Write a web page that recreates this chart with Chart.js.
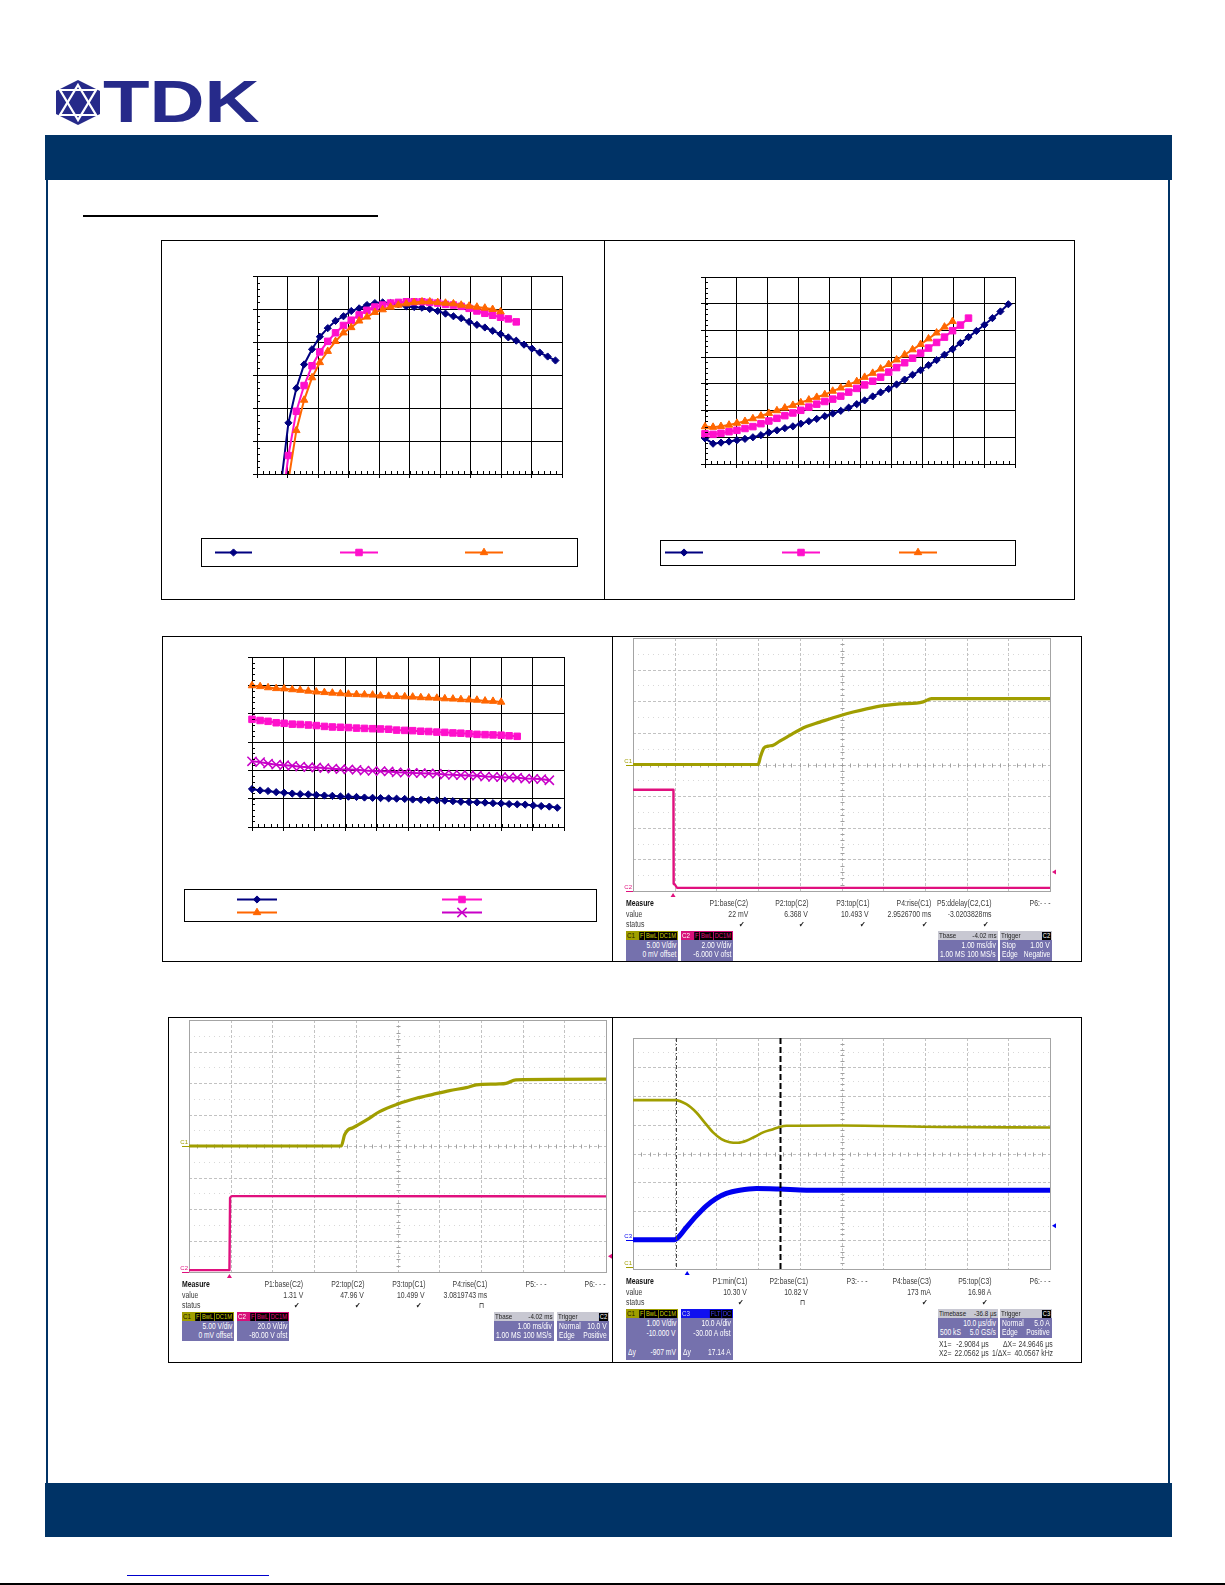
<!DOCTYPE html>
<html>
<head>
<meta charset="utf-8">
<title>TDK</title>
<script src="https://cdn.jsdelivr.net/npm/chart.js@4.4.1/dist/chart.umd.min.js"></script>
<style>
  html, body { margin: 0; padding: 0; background: #fff; }
  #page { position: relative; width: 1225px; height: 1585px; overflow: hidden; background: #fff; }
  .blk { position: absolute; }
  .panel { position: absolute; box-sizing: border-box; border: 1px solid #000; background: #fff; }
  canvas { position: absolute; }
  .t { position: absolute; white-space: nowrap; font-family: "Liberation Sans", Arial, sans-serif;
       font-size: 8.4px; line-height: 10px; height: 10px; color: #3a3a3a; }
  .box { position: absolute; background: #7571ad; overflow: hidden; color: #fff;
         font-family: "Liberation Sans", Arial, sans-serif; font-size: 8.2px; }
  .box span { position: absolute; white-space: nowrap; line-height: 9px; }
  .hdr { position: absolute; left: 0; top: 0; right: 0; height: 9px; font-size: 7.6px; }
  .bd { display: inline-block; background: #000; padding: 0 1px; margin-left: 1px; line-height: 8px; height: 8px;
        font-style: normal; font-size: 7px; margin-top: 0.5px; }
  #logo-text { position: absolute; left: 103px; top: 72px; font: bold 60px "Liberation Sans", Arial, sans-serif;
               line-height: 60px; color: #262a8a; transform: scaleX(1.27); transform-origin: 0 0; }
</style>
</head>
<body>
<div id="page">
  <svg class="blk" style="left:55px;top:80px" width="47" height="46" viewBox="0 0 47 46">
    <polygon points="23,0 45,11 45,34 23,45 1,34 1,11" fill="#262a8a"/>
    <polygon points="23,5 41,35 5,35" fill="none" stroke="#fff" stroke-width="2.2"/>
    <polygon points="23,40 5,10 41,10" fill="none" stroke="#fff" stroke-width="2.2"/>
  </svg>
  <div id="logo-text">TDK</div>
  <div class="blk" style="left:45px;top:135px;width:1127px;height:45px;background:#003366"></div>
  <div class="blk" style="left:46px;top:180px;width:2px;height:1303px;background:#003366"></div>
  <div class="blk" style="left:1168px;top:180px;width:2px;height:1303px;background:#003366"></div>
  <div class="blk" style="left:83px;top:215px;width:295px;height:2px;background:#000"></div>
  <div class="blk" style="left:45px;top:1483px;width:1127px;height:54px;background:#003366"></div>
  <div class="blk" style="left:127px;top:1575px;width:142px;height:1px;background:#0000cc"></div>
  <div class="blk" style="left:0;top:1583px;width:1225px;height:2px;background:#000"></div>
</div>
<script>
// ---------- chart data ----------
// load points shared by the three Excel charts (A)
const loadA = [0.00, 0.52, 1.03, 1.55, 2.06, 2.58, 3.09, 3.61, 4.12, 4.64, 5.15, 5.67, 6.18, 6.70, 7.21, 7.73,
               8.24, 8.76, 9.27, 9.79, 10.30, 10.82, 11.33, 11.85, 12.36, 12.88, 13.39, 13.91, 14.42, 14.94,
               15.45, 15.97, 16.48, 17.00, 17.51, 18.03, 18.54, 19.06, 19.57];

// efficiency (%)
const effBlue = [null, null, null, 68.0, 77.75, 83.0, 86.6, 88.9, 90.8, 92.1, 93.2, 93.9, 94.7, 95.1, 95.6, 95.9,
                 96.0, 95.9, 95.7, 95.4, 95.3, 95.2, 95.0, 94.7, 94.3, 93.9, 93.6, 93.05, 92.6, 92.2, 91.7, 91.2,
                 90.7, 90.2, 89.6, 89.0, 88.4, 87.8, 87.2];
const effPink = [null, null, null, 63.8, 72.8, 79.5, 83.4, 86.4, 88.5, 90.1, 91.4, 92.5, 93.3, 94.1, 94.8, 95.3,
                 95.6, 95.9, 96.0, 96.1, 96.1, 96.1, 96.0, 95.9, 95.7, 95.6, 95.4, 95.1, 94.7, 94.35, 94.05, 93.75,
                 93.5, 93.05];
const effOrange = [null, null, null, null, 69.0, 76.6, 81.2, 84.6, 86.9, 88.6, 90.1, 91.4, 92.2, 93.2, 93.8, 94.5,
                   94.9, 95.3, 95.6, 95.8, 96.0, 96.1, 96.1, 96.0, 95.9, 95.8, 95.6, 95.45, 95.3, 95.15, 94.95, 94.6];

// power dissipation (W)
const lossBlue = [0.96, 0.76, 0.80, 0.84, 0.89, 0.94, 1.00, 1.08, 1.18, 1.26, 1.34, 1.41, 1.51, 1.60, 1.69, 1.79,
                  1.89, 1.99, 2.11, 2.24, 2.38, 2.53, 2.68, 2.81, 2.98, 3.16, 3.34, 3.51, 3.70, 3.89, 4.09, 4.30,
                  4.53, 4.75, 4.98, 5.21, 5.46, 5.71, 5.98];
const lossPink = [1.13, 1.11, 1.15, 1.21, 1.26, 1.33, 1.40, 1.51, 1.61, 1.71, 1.81, 1.91, 2.01, 2.13, 2.24, 2.34,
                  2.43, 2.54, 2.69, 2.83, 2.96, 3.10, 3.25, 3.44, 3.61, 3.79, 3.96, 4.15, 4.34, 4.55, 4.75, 4.99,
                  5.20, 5.46];
const lossOrange = [1.40, 1.38, 1.41, 1.46, 1.53, 1.60, 1.70, 1.80, 1.90, 2.00, 2.10, 2.20, 2.30, 2.40, 2.50, 2.60,
                    2.73, 2.85, 2.98, 3.09, 3.25, 3.40, 3.56, 3.73, 3.90, 4.09, 4.28, 4.48, 4.69, 4.91, 5.13, 5.34];

// output voltage (V)
const voutBlue = [11.834, 11.829, 11.827, 11.823, 11.821, 11.818, 11.816, 11.815, 11.813, 11.811, 11.810, 11.808,
                  11.807, 11.806, 11.804, 11.803, 11.802, 11.801, 11.800, 11.799, 11.797, 11.796, 11.795, 11.794,
                  11.793, 11.791, 11.789, 11.788, 11.787, 11.786, 11.784, 11.783, 11.781, 11.780, 11.779, 11.776,
                  11.774, 11.772, 11.768];
const voutPink = [12.080, 12.076, 12.073, 12.068, 12.066, 12.063, 12.062, 12.060, 12.058, 12.055, 12.053, 12.052,
                  12.051, 12.049, 12.048, 12.047, 12.046, 12.045, 12.042, 12.041, 12.040, 12.038, 12.037, 12.035,
                  12.034, 12.032, 12.031, 12.029, 12.027, 12.026, 12.025, 12.024, 12.022, 12.020];
const voutOrange = [12.199, 12.196, 12.192, 12.189, 12.188, 12.185, 12.183, 12.180, 12.177, 12.175, 12.173, 12.171,
                    12.169, 12.168, 12.167, 12.166, 12.163, 12.162, 12.161, 12.160, 12.159, 12.157, 12.156, 12.155,
                    12.153, 12.152, 12.150, 12.149, 12.148, 12.145, 12.144, 12.141];
const voutPurple = [11.932, 11.929, 11.924, 11.920, 11.918, 11.916, 11.913, 11.911, 11.910, 11.908, 11.906, 11.904,
                    11.903, 11.902, 11.899, 11.898, 11.897, 11.896, 11.893, 11.892, 11.891, 11.890, 11.889, 11.888,
                    11.885, 11.884, 11.883, 11.882, 11.881, 11.878, 11.877, 11.876, 11.875, 11.874, 11.871, 11.870,
                    11.869, 11.865];

// axes: [min, max, major step, minor step]
const loadAxis = [0, 20, 2, 0.4];
const effAxis = [70, 100, 5, 1];
const lossAxis = [0, 7, 1, 0.2];
const voutAxis = [11.7, 12.3, 0.1, 0.02];

// ---------- scope captures ----------
// A: turn-on by enable (ms, V)
const scA_c1_t = [0, 3.0, 3.06, 3.14, 3.24, 3.36, 3.52, 3.76, 4.0, 4.16, 4.48, 4.8, 5.0, 5.28, 5.6, 6.0, 6.4, 6.8, 6.96, 7.16, 10];
const scA_c1_v = [0, 0, 1.3, 2.6, 2.9, 3.05, 3.7, 4.6, 5.5, 6.0, 6.7, 7.4, 7.8, 8.3, 8.8, 9.3, 9.6, 9.7, 9.9, 10.4, 10.4];
const scA_c2_t = [0, 0.97, 0.975, 1.0, 1.06, 10];
const scA_c2_v = [6.2, 6.2, 0.25, 0.2, 0.0, 0.0];
// B: turn-on by input (ms, V)
const scB_c1_t = [0, 3.65, 3.73, 3.81, 3.93, 4.25, 4.57, 5.01, 5.45, 5.85, 6.25, 6.65, 6.89, 7.44, 7.6, 7.84, 10];
const scB_c1_v = [0, 0, 1.75, 2.54, 2.9, 4.1, 5.45, 6.67, 7.57, 8.2, 8.8, 9.27, 9.7, 9.85, 9.95, 10.5, 10.6];
const scB_c2_t = [0, 0.97, 0.985, 1.03, 10];
const scB_c2_v = [1.2, 1.2, 47.0, 48.2, 48.0];
// C: load step (us, V / A)
const scC_c1_t = [0, 10, 12.8, 15.2, 17.2, 19.2, 21.2, 23.2, 25.2, 27.2, 29.2, 31.2, 33.6, 35.2, 36.8, 49.6, 73.6, 100];
const scC_c1_v = [11.85, 11.85, 11.71, 11.42, 11.07, 10.73, 10.50, 10.39, 10.37, 10.44, 10.58, 10.73, 10.84, 10.92, 10.96, 10.97, 10.92, 10.90];
const scC_c3_t = [0, 10, 10.8, 12.8, 15.2, 17.6, 20, 22.4, 25.6, 29.6, 35.2, 41.6, 100];
const scC_c3_v = [0.17, 0.17, 0.9, 4.4, 8.4, 11.9, 14.5, 16.2, 17.3, 17.9, 17.7, 17.3, 17.3];
const scC_cursors = [10.2, 35.2];

// measurement readouts
const scA_meas = ["P1:base(C2)", "P2:top(C2)", "P3:top(C1)", "P4:rise(C1)", "P5:ddelay(C2,C1)", "P6:- - -"];
const scA_vals = ["22 mV", "6.368 V", "10.493 V", "2.9526700 ms", "-3.0203828ms", ""];
const scA_stat = ["✔", "✔", "✔", "✔", "✔", ""];
const scB_meas = ["P1:base(C2)", "P2:top(C2)", "P3:top(C1)", "P4:rise(C1)", "P5:- - -", "P6:- - -"];
const scB_vals = ["1.31 V", "47.96 V", "10.499 V", "3.0819743 ms", "", ""];
const scB_stat = ["✔", "✔", "✔", "⊓", "", ""];
const scC_meas = ["P1:min(C1)", "P2:base(C1)", "P3:- - -", "P4:base(C3)", "P5:top(C3)", "P6:- - -"];
const scC_vals = ["10.30 V", "10.82 V", "", "173 mA", "16.98 A", ""];
const scC_stat = ["✔", "⊓", "", "✔", "✔", ""];

// ---------- layout ----------
const L = {
  p1: [161, 240, 444, 360], plot1: [257, 276, 305, 198],
  p2: [604, 240, 471, 360], plot2: [705, 277, 310, 187],
  p3: [162, 636, 451, 326], plot3: [252, 657, 312, 170],
  pA: [612, 636, 470, 326], gA: [633, 638, 417, 253],
  pB: [168, 1017, 445, 346], gB: [189, 1020, 417, 252],
  pC: [612, 1017, 470, 346], gC: [633, 1038, 417, 231]
};
const ST = {
  blue:   { color: '#000080', style: 'rectRot', r: 3.6 },
  pink:   { color: '#ff10cc', style: 'rect', r: 4.6 },
  orange: { color: '#ff6600', style: 'triangle', r: 4.3 },
  purple: { color: '#c800c8', style: 'crossRot', r: 6.5, bw: 1.5 }
};
const YEL = '#a09e00', MAG = '#e0107e', BLU = '#0000f0';
const NARROW = 0.82;

const page = document.getElementById('page');

function panel(p) {
  const d = document.createElement('div');
  d.className = 'panel';
  Object.assign(d.style, { left: p[0] + 'px', top: p[1] + 'px', width: p[2] + 'px', height: p[3] + 'px' });
  page.appendChild(d);
}
function inset(p) { return [p[0] + 1, p[1] + 1, p[2] - 2, p[3] - 2]; }
function makeCanvas(r) {
  const cv = document.createElement('canvas');
  cv.width = r[2]; cv.height = r[3];
  Object.assign(cv.style, { left: r[0] + 'px', top: r[1] + 'px', width: r[2] + 'px', height: r[3] + 'px' });
  page.appendChild(cv);
  return cv;
}
function padFor(c, g) {
  return { left: g[0] - c[0], top: g[1] - c[1], right: c[0] + c[2] - g[0] - g[2], bottom: c[1] + c[3] - g[1] - g[3] };
}

function drawMarker(ctx, style, r, x, y, color, bw) {
  ctx.save();
  ctx.fillStyle = color; ctx.strokeStyle = color; ctx.lineWidth = bw || 1;
  ctx.beginPath();
  if (style === 'rectRot') {
    ctx.moveTo(x - r, y); ctx.lineTo(x, y - r); ctx.lineTo(x + r, y); ctx.lineTo(x, y + r); ctx.closePath();
    ctx.fill(); ctx.stroke();
  } else if (style === 'rect') {
    const s = r * Math.SQRT1_2;
    ctx.rect(x - s, y - s, 2 * s, 2 * s); ctx.fill(); ctx.stroke();
  } else if (style === 'triangle') {
    ctx.moveTo(x, y - r); ctx.lineTo(x + 0.866 * r, y + 0.5 * r); ctx.lineTo(x - 0.866 * r, y + 0.5 * r); ctx.closePath();
    ctx.fill(); ctx.stroke();
  } else {
    const s = r * Math.SQRT1_2;
    ctx.moveTo(x - s, y - s); ctx.lineTo(x + s, y + s); ctx.moveTo(x + s, y - s); ctx.lineTo(x - s, y + s); ctx.stroke();
  }
  ctx.restore();
}

// Excel-like minor tick marks on the inner side of the axes
function minorTicks(mx, my) {
  return {
    id: 'minorTicks',
    afterDraw(chart) {
      const { ctx, chartArea: a, scales: { x, y } } = chart;
      ctx.save();
      ctx.strokeStyle = '#000'; ctx.lineWidth = 1;
      ctx.beginPath();
      for (let v = x.min + mx; v < x.max - 1e-9; v += mx) {
        const px = Math.round(x.getPixelForValue(v)) + 0.5;
        ctx.moveTo(px, a.bottom); ctx.lineTo(px, a.bottom - 3);
      }
      for (let v = y.min + my; v < y.max - 1e-9; v += my) {
        const py = Math.round(y.getPixelForValue(v)) + 0.5;
        ctx.moveTo(a.left, py); ctx.lineTo(a.left + 3, py);
      }
      ctx.stroke();
      ctx.restore();
    }
  };
}

// legend frame with line samples, no text
function boxLegend(box, items) {
  return {
    id: 'boxLegend',
    afterDraw(chart) {
      const ctx = chart.ctx;
      ctx.save();
      ctx.strokeStyle = '#000'; ctx.lineWidth = 1;
      ctx.strokeRect(box[0] + 0.5, box[1] + 0.5, box[2], box[3]);
      items.forEach(it => {
        const ds = chart.data.datasets[it.ds];
        ctx.strokeStyle = ds.borderColor; ctx.lineWidth = ds.borderWidth;
        ctx.beginPath(); ctx.moveTo(it.x1, it.y + 0.5); ctx.lineTo(it.x2, it.y + 0.5); ctx.stroke();
        drawMarker(ctx, ds.pointStyle, ds.pointRadius, (it.x1 + it.x2) / 2, it.y + 0.5, ds.pointBackgroundColor, ds.pointBorderWidth);
      });
      ctx.restore();
    }
  };
}

function axisOpts(ax, dir) {
  return {
    type: 'linear', min: ax[0], max: ax[1],
    ticks: { stepSize: ax[2], display: false },
    grid: { color: '#000', lineWidth: 1, drawTicks: true, tickLength: 4, tickColor: '#000' },
    border: { display: true, color: '#000', width: 1 },
    afterFit: s => { if (dir === 'x') s.height = 0; else s.width = 0; }
  };
}

function excelChart(p, plot, xAx, yAx, series, legBox, legItems) {
  panel(p);
  const c = inset(p);
  const cv = makeCanvas(c);
  const lb = [legBox[0] - c[0], legBox[1] - c[1], legBox[2], legBox[3]];
  const li = legItems.map(it => ({ ds: it[0], x1: it[1] - c[0], x2: it[2] - c[0], y: it[3] - c[1] }));
  return new Chart(cv, {
    type: 'line',
    data: {
      datasets: series.map((s, i) => ({
        data: s.y.map((v, k) => ({ x: loadA[k], y: v })),
        borderColor: s.st.color, backgroundColor: s.st.color,
        pointBackgroundColor: s.st.color, pointBorderColor: s.st.color,
        pointStyle: s.st.style, pointRadius: s.st.r, pointBorderWidth: s.st.bw || 1,
        borderWidth: 2, tension: 0, spanGaps: false, fill: false, order: series.length - i,
        clip: { left: 10, right: 10, top: 10, bottom: 0 }
      }))
    },
    options: {
      responsive: false, animation: false, events: [],
      layout: { padding: padFor(c, plot) },
      plugins: { legend: { display: false }, tooltip: { enabled: false } },
      scales: { x: axisOpts(xAx, 'x'), y: axisOpts(yAx, 'y') }
    },
    plugins: [minorTicks(xAx[3], yAx[3]), boxLegend(lb, li)]
  });
}

// ---------- scope helpers ----------
const scopeGrid = {
  id: 'scopeGrid',
  beforeDatasetsDraw(chart) {
    const { ctx, chartArea: a } = chart;
    const dx = (a.right - a.left) / 10, dy = (a.bottom - a.top) / 8;
    ctx.save();
    ctx.lineWidth = 1;
    ctx.strokeStyle = '#c2c2c2';
    ctx.setLineDash([3, 2]);
    ctx.beginPath();
    for (let i = 1; i < 10; i++) { const x = Math.round(a.left + i * dx) + 0.5; ctx.moveTo(x, a.top); ctx.lineTo(x, a.bottom); }
    for (let j = 1; j < 8; j++) { const y = Math.round(a.top + j * dy) + 0.5; ctx.moveTo(a.left, y); ctx.lineTo(a.right, y); }
    ctx.stroke();
    ctx.setLineDash([1, 4]);
    ctx.strokeStyle = '#d8d8d8';
    ctx.beginPath();
    for (let j = 0; j < 8; j++) { const y = Math.round(a.top + (j + 0.5) * dy) + 0.5; ctx.moveTo(a.left, y); ctx.lineTo(a.right, y); }
    ctx.stroke();
    ctx.setLineDash([]);
    ctx.strokeStyle = '#a0a0a0';
    const cx = Math.round(a.left + 5 * dx) + 0.5, cy = Math.round(a.top + 4 * dy) + 0.5;
    ctx.beginPath();
    for (let i = 1; i < 50; i++) { const x = Math.round(a.left + i * dx / 5) + 0.5; ctx.moveTo(x, cy - 2); ctx.lineTo(x, cy + 2); }
    for (let j = 1; j < 40; j++) { const y = Math.round(a.top + j * dy / 5) + 0.5; ctx.moveTo(cx - 2, y); ctx.lineTo(cx + 2, y); }
    ctx.stroke();
    ctx.strokeStyle = '#a4a4a4';
    ctx.strokeRect(Math.round(a.left) + 0.5, Math.round(a.top) + 0.5, Math.round(a.right - a.left), Math.round(a.bottom - a.top));
    ctx.restore();
  }
};

function scopeMarks(m) {
  return {
    id: 'scopeMarks',
    afterDraw(chart) {
      const { ctx, chartArea: a, scales } = chart;
      ctx.save();
      ctx.font = '6px "Liberation Sans", sans-serif';
      ctx.textAlign = 'right'; ctx.textBaseline = 'alphabetic';
      m.labels.forEach(l => {
        let y = scales[l.axis].getPixelForValue(l.value);
        if (y > a.bottom) y = a.bottom - 2;
        ctx.fillStyle = l.color; ctx.strokeStyle = l.color; ctx.lineWidth = 1;
        ctx.fillText(l.text, a.left - 1, y - 2);
        ctx.beginPath(); ctx.moveTo(a.left - 7, Math.round(y) + 0.5); ctx.lineTo(a.left, Math.round(y) + 0.5); ctx.stroke();
      });
      (m.cursors || []).forEach(c => {
        const x = Math.round(scales.x.getPixelForValue(c.value)) + 0.5;
        ctx.strokeStyle = c.color; ctx.lineWidth = c.width; ctx.setLineDash(c.dash);
        ctx.beginPath(); ctx.moveTo(x, a.top); ctx.lineTo(x, a.bottom); ctx.stroke();
      });
      ctx.setLineDash([]);
      if (m.trigT) {
        const x = scales.x.getPixelForValue(m.trigT.value);
        ctx.fillStyle = m.trigT.color;
        ctx.beginPath(); ctx.moveTo(x, a.bottom + 2); ctx.lineTo(x + 2.5, a.bottom + 6); ctx.lineTo(x - 2.5, a.bottom + 6); ctx.closePath(); ctx.fill();
      }
      if (m.trigL) {
        const y = scales[m.trigL.axis].getPixelForValue(m.trigL.value);
        ctx.fillStyle = m.trigL.color;
        ctx.beginPath(); ctx.moveTo(a.right + 2, y); ctx.lineTo(a.right + 6, y - 2.5); ctx.lineTo(a.right + 6, y + 2.5); ctx.closePath(); ctx.fill();
      }
      ctx.restore();
    }
  };
}

function scopeChart(p, g, xRange, axes, traces, marks) {
  panel(p);
  const c = inset(p);
  const cv = makeCanvas(c);
  const scales = { x: { type: 'linear', display: false, min: xRange[0], max: xRange[1] } };
  Object.keys(axes).forEach(k => { scales[k] = { type: 'linear', display: false, min: axes[k][0], max: axes[k][1] }; });
  return new Chart(cv, {
    type: 'line',
    data: {
      datasets: traces.map(tr => ({
        data: tr.t.map((t, i) => ({ x: t, y: tr.v[i] })),
        yAxisID: tr.axis, borderColor: tr.color, borderWidth: tr.width,
        pointRadius: 0, fill: false, cubicInterpolationMode: 'monotone', borderJoinStyle: 'round'
      }))
    },
    options: {
      responsive: false, animation: false, events: [],
      layout: { padding: padFor(c, g) },
      plugins: { legend: { display: false }, tooltip: { enabled: false } },
      scales
    },
    plugins: [scopeGrid, scopeMarks(marks)]
  });
}

function txt(x, y, s, o) {
  o = o || {};
  const d = document.createElement('div');
  d.className = 't';
  d.textContent = s;
  d.style.top = (y - 5) + 'px';
  if (o.right) d.style.right = (1225 - x) + 'px'; else d.style.left = x + 'px';
  d.style.transform = `scaleX(${NARROW})`;
  d.style.transformOrigin = o.right ? '100% 50%' : '0 50%';
  if (o.bold) { d.style.fontWeight = 'bold'; d.style.color = '#111'; }
  if (o.color) d.style.color = o.color;
  page.appendChild(d);
}

function measTable(x0, ys, cols, labels, values, status) {
  txt(x0, ys[0], 'Measure', { bold: true });
  txt(x0, ys[1], 'value');
  txt(x0, ys[2], 'status');
  cols.forEach((cx, i) => {
    txt(cx, ys[0], labels[i], { right: true });
    if (values[i]) txt(cx, ys[1], values[i], { right: true });
    if (status[i]) txt(cx - 3, ys[2], status[i], { right: true, color: '#222' });
  });
}

function badge(s, color) { return `<i class="bd" style="color:${color}">${s}</i>`; }

function scopeBox(x, y, w, h, hdr, rows, rowH) {
  const b = document.createElement('div');
  b.className = 'box';
  Object.assign(b.style, { left: x + 'px', top: y + 'px', width: w + 'px', height: h + 'px' });
  const L0 = `transform:scaleX(${NARROW});transform-origin:0 50%;`;
  const R0 = `transform:scaleX(${NARROW});transform-origin:100% 50%;`;
  let html = `<div class="hdr" style="background:${hdr.bg}">` +
             `<span style="${L0}left:1px;top:0;color:${hdr.fg}">${hdr.label}</span>` +
             `<span style="${R0}right:1px;top:0;color:${hdr.fg}">${hdr.right}</span></div>`;
  rows.forEach((r, i) => {
    const top = 10 + i * rowH;
    if (r[0]) html += `<span style="${L0}left:2px;top:${top}px">${r[0]}</span>`;
    if (r[1]) html += `<span style="${R0}right:2px;top:${top}px">${r[1]}</span>`;
  });
  b.innerHTML = html;
  page.appendChild(b);
}

// ---------- Excel charts ----------
excelChart(L.p1, L.plot1, loadAxis, effAxis,
  [{ y: effBlue, st: ST.blue }, { y: effPink, st: ST.pink }, { y: effOrange, st: ST.orange }],
  [201, 538, 376, 28], [[0, 215, 252, 552], [1, 340, 378, 552], [2, 465, 503, 552]]);

excelChart(L.p2, L.plot2, loadAxis, lossAxis,
  [{ y: lossBlue, st: ST.blue }, { y: lossPink, st: ST.pink }, { y: lossOrange, st: ST.orange }],
  [660, 540, 355, 25], [[0, 665, 703, 552], [1, 782, 820, 552], [2, 899, 937, 552]]);

excelChart(L.p3, L.plot3, loadAxis, voutAxis,
  [{ y: voutBlue, st: ST.blue }, { y: voutPurple, st: ST.purple }, { y: voutPink, st: ST.pink }, { y: voutOrange, st: ST.orange }],
  [184, 889, 412, 32], [[0, 237, 277, 899], [2, 442, 482, 899], [3, 237, 277, 912], [1, 442, 482, 912]]);

// ---------- scope A ----------
const C1HDR = badge('F', '#d4d200') + badge('BwL', '#d4d200') + badge('DC1M', '#d4d200');
const C2HDR = badge('F', MAG) + badge('BwL', MAG) + badge('DC1M', MAG);
scopeChart(L.pA, L.gA, [0, 10], { yC1: [-20, 20], yC2: [-0.2, 15.8] },
  [{ t: scA_c2_t, v: scA_c2_v, axis: 'yC2', color: MAG, width: 2.4 },
   { t: scA_c1_t, v: scA_c1_v, axis: 'yC1', color: YEL, width: 3.2 }],
  { labels: [{ text: 'C1', color: YEL, axis: 'yC1', value: 0 }, { text: 'C2', color: MAG, axis: 'yC2', value: -0.2 }],
    trigT: { value: 0.96, color: MAG }, trigL: { axis: 'yC2', value: 1.0, color: MAG } });
measTable(626, [903, 913.7, 924], [748, 808, 869, 931, 992, 1051], scA_meas, scA_vals, scA_stat);
scopeBox(626, 931, 52, 30, { bg: '#a09e00', fg: '#1c1c00', label: 'C1', right: C1HDR },
  [['', '5.00 V/div'], ['', '0 mV offset']], 9);
scopeBox(681, 931, 52, 30, { bg: '#d8107a', fg: '#fff', label: 'C2', right: C2HDR },
  [['', '2.00 V/div'], ['', '-6.000 V ofst']], 9);
scopeBox(938, 931, 60, 30, { bg: '#c8c8d2', fg: '#222', label: 'Tbase', right: '-4.02 ms' },
  [['', '1.00 ms/div'], ['1.00 MS', '100 MS/s']], 9);
scopeBox(1000, 931, 52, 30, { bg: '#c8c8d2', fg: '#222', label: 'Trigger', right: badge('C2', '#fff') },
  [['Stop', '1.00 V'], ['Edge', 'Negative']], 9);

// ---------- scope B ----------
scopeChart(L.pB, L.gB, [0, 10], { yC1: [-20, 20], yC2: [0, 160] },
  [{ t: scB_c2_t, v: scB_c2_v, axis: 'yC2', color: MAG, width: 2.4 },
   { t: scB_c1_t, v: scB_c1_v, axis: 'yC1', color: YEL, width: 3.2 }],
  { labels: [{ text: 'C1', color: YEL, axis: 'yC1', value: 0 }, { text: 'C2', color: MAG, axis: 'yC2', value: 0 }],
    trigT: { value: 0.97, color: MAG }, trigL: { axis: 'yC2', value: 10, color: MAG } });
measTable(182, [1284, 1294.5, 1305], [303, 364, 425, 487, 547, 606], scB_meas, scB_vals, scB_stat);
scopeBox(182, 1312, 52, 29, { bg: '#a09e00', fg: '#1c1c00', label: 'C1', right: C1HDR },
  [['', '5.00 V/div'], ['', '0 mV offset']], 9);
scopeBox(237, 1312, 52, 29, { bg: '#d8107a', fg: '#fff', label: 'C2', right: C2HDR },
  [['', '20.0 V/div'], ['', '-80.00 V ofst']], 9);
scopeBox(494, 1312, 60, 29, { bg: '#c8c8d2', fg: '#222', label: 'Tbase', right: '-4.02 ms' },
  [['', '1.00 ms/div'], ['1.00 MS', '100 MS/s']], 9);
scopeBox(557, 1312, 52, 29, { bg: '#c8c8d2', fg: '#222', label: 'Trigger', right: badge('C2', '#fff') },
  [['Normal', '10.0 V'], ['Edge', 'Positive']], 9);

// ---------- scope C ----------
scopeChart(L.pC, L.gC, [0, 100], { yC1: [6, 14], yC3: [-10, 70] },
  [{ t: scC_c3_t, v: scC_c3_v, axis: 'yC3', color: BLU, width: 5 },
   { t: scC_c1_t, v: scC_c1_v, axis: 'yC1', color: YEL, width: 2.6 }],
  { labels: [{ text: 'C3', color: BLU, axis: 'yC3', value: 0 }, { text: 'C1', color: YEL, axis: 'yC1', value: 0 }],
    trigT: { value: 13.0, color: BLU }, trigL: { axis: 'yC3', value: 5, color: BLU },
    cursors: [{ value: scC_cursors[0], width: 1, dash: [4, 2, 1, 2], color: '#444' },
              { value: scC_cursors[1], width: 2, dash: [6, 3], color: '#000' }] });
measTable(626, [1281, 1291.7, 1302], [747, 808, 868, 931, 991, 1051], scC_meas, scC_vals, scC_stat);
scopeBox(626, 1309, 52, 51, { bg: '#a09e00', fg: '#1c1c00', label: 'C1', right: C1HDR },
  [['', '1.00 V/div'], ['', '-10.000 V'], ['', ''], ['Δy', '-907 mV']], 9.6);
scopeBox(681, 1309, 52, 51, { bg: '#1010f0', fg: '#dde', label: 'C3', right: badge('FLT', '#4040ff') + badge('DC', '#4040ff') },
  [['', '10.0 A/div'], ['', '-30.00 A ofst'], ['', ''], ['Δy', '17.14 A']], 9.6);
scopeBox(938, 1309, 60, 29, { bg: '#c8c8d2', fg: '#222', label: 'Timebase', right: '-36.8 µs' },
  [['', '10.0 µs/div'], ['500 kS', '5.0 GS/s']], 9.4);
scopeBox(1000, 1309, 52, 29, { bg: '#c8c8d2', fg: '#222', label: 'Trigger', right: badge('C3', '#fff') },
  [['Normal', '5.0 A'], ['Edge', 'Positive']], 9.4);
txt(939, 1344, 'X1='); txt(989, 1344, '-2.9084 µs', { right: true });
txt(1003, 1344, 'ΔX='); txt(1053, 1344, '24.9646 µs', { right: true });
txt(939, 1353.3, 'X2='); txt(989, 1353.3, '22.0562 µs', { right: true });
txt(992, 1353.3, '1/ΔX='); txt(1053, 1353.3, '40.0567 kHz', { right: true });
</script>
</body>
</html>
